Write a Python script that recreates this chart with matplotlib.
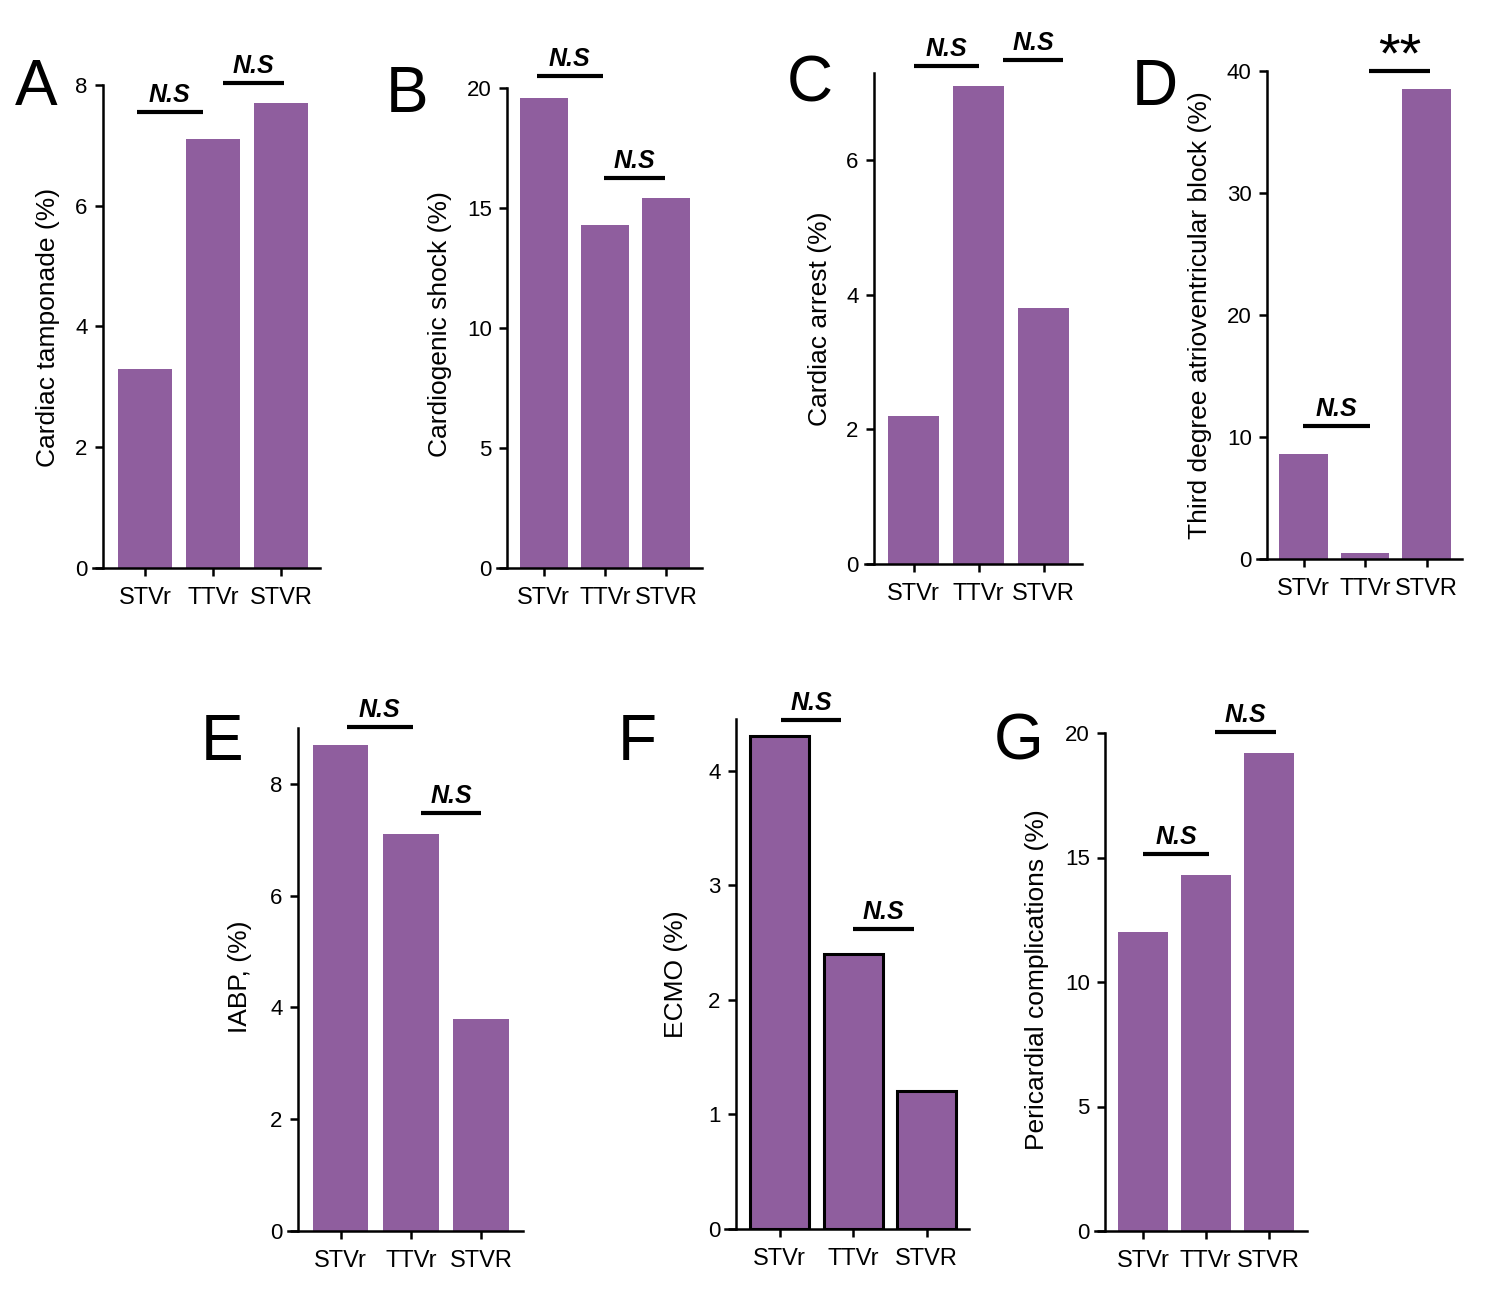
import numpy as np
import matplotlib
matplotlib.use('Agg')
import matplotlib.pyplot as plt

plt.rcParams['font.family'] = ['Liberation Sans', 'DejaVu Sans']

groups = ['STVr', 'TTVr', 'STVR']

tamponade = [3.3, 7.1, 7.7]
shock = [19.6, 14.3, 15.4]
arrest = [2.2, 7.1, 3.8]
av_block = [8.6, 0.5, 38.5]
iabp = [8.7, 7.1, 3.8]
ecmo = [4.3, 2.4, 1.2]
pericardial = [12.0, 14.3, 19.2]

ylabels = ['Cardiac tamponade (%)', 'Cardiogenic shock (%)', 'Cardiac arrest (%)',
           'Third degree atrioventricular block (%)', 'IABP, (%)', 'ECMO (%)',
           'Pericardial complications (%)']
letters = ['A', 'B', 'C', 'D', 'E', 'F', 'G']
yticks = [[0, 2, 4, 6, 8], [0, 5, 10, 15, 20], [0, 2, 4, 6], [0, 10, 20, 30, 40],
          [0, 2, 4, 6, 8], [0, 1, 2, 3, 4], [0, 5, 10, 15, 20]]
ytops = [8, 20, 7.3, 40, 9, 4.45, 20]
# significance marks: (x0, x1, y, text)
sig = [[(-0.12, 0.85, 7.55, 'N.S'), (1.15, 2.04, 8.03, 'N.S')],
       [(-0.11, 0.97, 20.5, 'N.S'), (0.99, 1.98, 16.25, 'N.S')],
       [(0.0, 1.0, 7.41, 'N.S'), (1.38, 2.3, 7.49, 'N.S')],
       [(-0.01, 1.08, 10.9, 'N.S'), (1.07, 2.06, 40.0, '**')],
       [(0.09, 1.03, 9.02, 'N.S'), (1.15, 2.0, 7.48, 'N.S')],
       [(0.02, 0.84, 4.44, 'N.S'), (1.0, 1.83, 2.62, 'N.S')],
       [(0.0, 1.05, 15.14, 'N.S'), (1.15, 2.12, 20.04, 'N.S')]]
values = [tamponade, shock, arrest, av_block, iabp, ecmo, pericardial]

# layout in pixels: x-spine left/right, y of zero, y of top, first/last bar centre, bar width, y-spine x
layout = [(93, 320, 568, 85, 145, 281, 54, 103),
          (497, 702, 568, 88, 543.5, 666, 48, 507),
          (865, 1082, 564, 73, 913.5, 1043.5, 51, 874),
          (1257, 1462, 559, 71, 1303.5, 1426.5, 48.5, 1267),
          (288, 523, 1231, 728, 340.5, 481, 55.5, 298),
          (725, 969, 1229, 719, 779.5, 926.5, 59, 736),
          (1095, 1307, 1231, 733, 1143, 1268.5, 50, 1105)]
ylab_pos = [(48, 327), (440, 324), (820, 319), (1200, 315), (240, 977), (676, 974), (1037, 980)]
letter_pos = [(36, 88), (407, 95), (810, 85), (1155, 88), (222, 743), (637, 743), (1019, 743)]

W, H = 1488, 1312
fig = plt.figure(figsize=(W/100, H/100), dpi=100)
color = '#8F5E9E'

for i in range(7):
    xl, xr, y0, yt, c0, c2, bw, ys = layout[i]
    s = (c2-c0)/2.
    ax = fig.add_axes([xl/W, 1-y0/H, (xr-xl)/W, (y0-yt)/H])
    x = np.arange(3)
    if i == 5:
        ax.bar(x, values[i], width=bw/s, color=color, edgecolor='black', linewidth=2.2)
    else:
        ax.bar(x, values[i], width=bw/s, color=color, edgecolor='none')
    ax.set_xlim((xl-c0)/s, (xr-c0)/s)
    ax.set_ylim(0, ytops[i])
    ax.set_xticks(x)
    ax.set_xticklabels(groups, fontsize=17)
    ax.set_yticks(yticks[i])
    ax.tick_params(axis='y', labelsize=16, length=6, width=1.8, pad=5)
    ax.tick_params(axis='x', length=6, width=1.8, pad=8)
    ax.spines['top'].set_visible(False)
    ax.spines['right'].set_visible(False)
    ax.spines['left'].set_linewidth(1.8)
    ax.spines['bottom'].set_linewidth(1.8)
    ax.spines['left'].set_position(('data', (ys-c0)/s))
    ax.patch.set_visible(False)
    for (a, b, y, t) in sig[i]:
        ax.plot([a, b], [y, y], color='black', lw=3, clip_on=False, solid_capstyle='butt')
        if t == '**':
            ax.annotate(t, ((a+b)/2, y), xytext=(0, 0), textcoords='offset points',
                        ha='center', va='baseline', fontsize=40,
                        annotation_clip=False)
        else:
            ax.annotate(t, ((a+b)/2, y), xytext=(0, 7), textcoords='offset points',
                        ha='center', va='baseline', fontsize=18, fontweight='bold',
                        fontstyle='italic', annotation_clip=False)
    fig.text(ylab_pos[i][0]/W, 1-ylab_pos[i][1]/H, ylabels[i], rotation=90,
             ha='center', va='center', fontsize=19)
    fig.text(letter_pos[i][0]/W, 1-letter_pos[i][1]/H, letters[i],
             ha='center', va='center', fontsize=46)

plt.savefig('out.png', dpi=100)
